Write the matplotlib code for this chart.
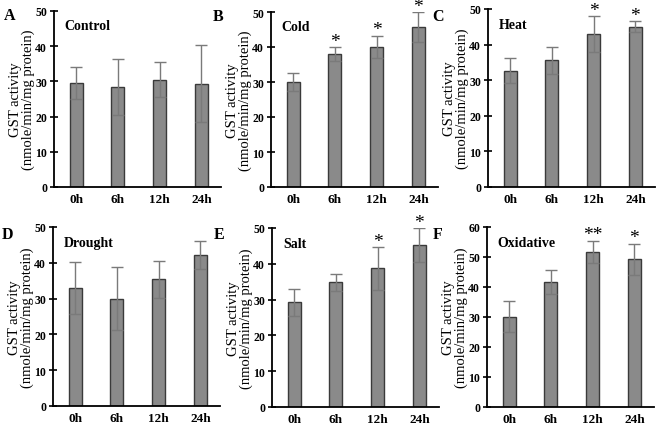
import numpy as np
import matplotlib
matplotlib.use("Agg")
import matplotlib.pyplot as plt

plt.rcParams['font.family'] = ['Liberation Serif', 'DejaVu Serif']

# time points
times = ['0h', '6h', '12h', '24h']

# panel data (mean, error)
control_mean = [29.6, 28.4, 30.5, 29.4]
control_err = [4.5, 8.0, 5.0, 11.0]
cold_mean = [30.1, 38.0, 40.1, 45.6]
cold_err = [2.6, 1.9, 3.1, 4.3]
heat_mean = [32.6, 35.6, 43.0, 45.0]
heat_err = [3.5, 3.8, 5.0, 1.6]
drought_mean = [33.0, 30.0, 35.4, 42.1]
drought_err = [7.2, 8.8, 5.2, 3.9]
salt_mean = [29.3, 34.8, 38.7, 45.2]
salt_err = [3.8, 2.4, 6.0, 4.8]
oxid_mean = [30.1, 41.7, 51.7, 49.2]
oxid_err = [5.2, 3.9, 3.8, 5.2]

# significance marks
cold_sig = ['', '*', '*', '*']
heat_sig = ['', '', '*', '*']
none_sig = ['', '', '', '']
salt_sig = ['', '', '*', '*']
oxid_sig = ['', '', '**', '*']

panels = [
    ('A', 'Control', control_mean, control_err, none_sig, 50),
    ('B', 'Cold', cold_mean, cold_err, cold_sig, 50),
    ('C', 'Heat', heat_mean, heat_err, heat_sig, 50),
    ('D', 'Drought', drought_mean, drought_err, none_sig, 50),
    ('E', 'Salt', salt_mean, salt_err, salt_sig, 50),
    ('F', 'Oxidative', oxid_mean, oxid_err, oxid_sig, 60),
]

W, H = 658, 427
fig = plt.figure(figsize=(W / 100, H / 100), dpi=100)

# axes boxes in pixels: left, top (y=max), bottom (y=0)
boxes = [(54, 12, 188), (271, 13, 188), (488, 10, 188),
         (53, 228, 407), (272, 229, 408), (487, 228, 408)]
letter_pos = [(4, 8), (213, 9), (432, 9), (2, 227), (214, 227), (433, 227)]
ax_w = 167

x = np.arange(4)
for (letter, name, mean, err, sig, ymax), (l, t, b), (lx, ly) in zip(panels, boxes, letter_pos):
    ax = fig.add_axes([l / W, 1 - b / H, ax_w / W, (b - t) / H])
    ax.bar(x, mean, width=0.31, color='#8a8a8a', edgecolor='#3a3a3a', linewidth=1.0,
           yerr=err, error_kw=dict(ecolor='#7a7a7a', elinewidth=1.0, capsize=4, capthick=1.0))
    ax.set_xlim(-0.53, 3.47)
    ax.set_ylim(0, ymax)
    ax.set_yticks(np.arange(0, ymax + 1, 10))
    ax.set_xticks(x)
    ax.set_xticklabels(times, fontsize=9.5, fontweight='bold')
    for lab in ax.get_yticklabels():
        lab.set_fontweight('bold')
        lab.set_fontsize(8.5)
    ax.tick_params(axis='x', length=0, pad=4)
    ax.tick_params(axis='y', direction='inout', length=6, width=1.2, pad=2)
    ax.spines['top'].set_visible(False)
    ax.spines['right'].set_visible(False)
    ax.spines['left'].set_linewidth(1.3)
    ax.spines['bottom'].set_linewidth(1.3)
    ax.set_ylabel('GST activity\n(nmole/min/mg protein)', fontsize=10.5, labelpad=0,
                  linespacing=0.95)
    ax.text(0.065, 0.915, name, transform=ax.transAxes, fontsize=10, fontweight='bold',
            ha='left', va='center')
    for xi, m, e, s in zip(x, mean, err, sig):
        if s:
            ax.text(xi, m + e - ymax * 0.015, s, ha='center', va='bottom', fontsize=14)
    fig.text(lx / W, 1 - ly / H, letter, fontsize=11.5, fontweight='bold', ha='left', va='top')

fig.savefig('out.png', dpi=100)
